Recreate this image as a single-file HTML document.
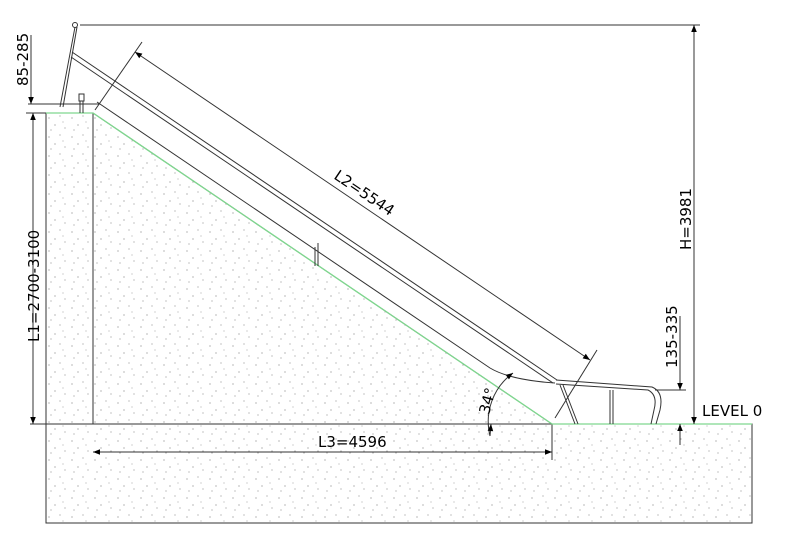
<!DOCTYPE html>
<html><head><meta charset="utf-8"><style>html,body{margin:0;padding:0;background:#fff}svg{display:block}</style></head>
<body>
<svg width="800" height="553" viewBox="0 0 800 553" xmlns="http://www.w3.org/2000/svg" font-family="DejaVu Sans, sans-serif">
<defs>
<pattern id="sp" width="23" height="19" patternUnits="userSpaceOnUse">
<rect width="23" height="19" fill="#fff"/>
<circle cx="3" cy="4" r="0.6" fill="#888"/><circle cx="14" cy="2" r="0.6" fill="#999"/>
<circle cx="9" cy="11" r="0.6" fill="#888"/><circle cx="19" cy="14" r="0.6" fill="#999"/>
<circle cx="5" cy="16" r="0.6" fill="#999"/><circle cx="17" cy="8" r="0.5" fill="#888"/>
</pattern>
<marker id="a" viewBox="0 0 10 10" refX="10" refY="5" markerWidth="10" markerHeight="7" orient="auto-start-reverse" markerUnits="userSpaceOnUse"><path d="M0,1 L10,5 L0,9z" fill="#000"/></marker>
</defs>
<polygon points="46,113 93,113 552,424 752,424 752,523 46,523" fill="url(#sp)" stroke="#333" stroke-width="1"/>
<line x1="93" y1="113" x2="93" y2="424" stroke="#333"/>
<line x1="30" y1="424" x2="552" y2="424" stroke="#333"/>
<line x1="552" y1="424" x2="552" y2="460" stroke="#333"/>
<polyline points="46,113 93,113 552,424 752,424" fill="none" stroke="#7fd88f" stroke-width="1.3"/>
<line x1="60" y1="107" x2="75" y2="27" stroke="#333"/>
<line x1="63" y1="107" x2="77" y2="27" stroke="#333"/>
<circle cx="75" cy="25" r="2.5" fill="#fff" stroke="#333"/>
<line x1="80" y1="25" x2="700" y2="25" stroke="#333"/>
<rect x="79" y="94" width="5" height="7" fill="none" stroke="#333"/>
<line x1="80" y1="101" x2="80" y2="113" stroke="#333"/><line x1="83" y1="101" x2="83" y2="113" stroke="#333"/>
<line x1="28" y1="104" x2="100" y2="104" stroke="#333"/>
<line x1="72" y1="52" x2="557" y2="380" stroke="#333"/>
<line x1="71" y1="57" x2="553" y2="383" stroke="#333"/>
<path d="M97,102 L490,368 Q510,380 555,383" fill="none" stroke="#333"/>
<line x1="315" y1="247" x2="315" y2="266" stroke="#333"/><line x1="318" y1="243" x2="318" y2="266" stroke="#333"/>
<path d="M556,380 L652,387 Q664,392 660,410 L656,424" fill="none" stroke="#333"/>
<path d="M556,384 L648,390 Q658,395 654,410 L651,424" fill="none" stroke="#333"/>
<line x1="560" y1="385" x2="575" y2="424" stroke="#333"/><line x1="563" y1="385" x2="578" y2="424" stroke="#333"/>
<line x1="610" y1="390" x2="610" y2="424" stroke="#333"/><line x1="613" y1="390" x2="613" y2="424" stroke="#333"/>
<line x1="135" y1="52" x2="590" y2="360" stroke="#333" marker-start="url(#a)" marker-end="url(#a)"/>
<line x1="142" y1="42" x2="95" y2="110" stroke="#333"/>
<line x1="597" y1="350" x2="555" y2="418" stroke="#333"/>
<text font-size="15" transform="translate(333,178) rotate(34)">L2=5544</text>
<line x1="694" y1="25" x2="694" y2="424" stroke="#333" marker-start="url(#a)" marker-end="url(#a)"/>
<text font-size="15" transform="translate(691,250) rotate(-90)">H=3981</text>
<text x="702" y="416" font-size="15">LEVEL 0</text>
<line x1="680" y1="316" x2="680" y2="390" stroke="#333" marker-end="url(#a)"/>
<line x1="680" y1="445" x2="680" y2="424" stroke="#333" marker-end="url(#a)"/>
<line x1="655" y1="390" x2="686" y2="390" stroke="#333"/>
<text font-size="15" transform="translate(677,368) rotate(-90)">135-335</text>
<line x1="33" y1="113" x2="33" y2="424" stroke="#333" marker-start="url(#a)" marker-end="url(#a)"/>
<line x1="26" y1="113" x2="46" y2="113" stroke="#333"/>
<text font-size="15" transform="translate(39,342) rotate(-90)">L1=2700-3100</text>
<line x1="31" y1="35" x2="31" y2="104" stroke="#333" marker-end="url(#a)"/>
<text font-size="15" transform="translate(28,86) rotate(-90)">85-285</text>
<line x1="93" y1="452" x2="552" y2="452" stroke="#333" marker-start="url(#a)" marker-end="url(#a)"/>
<text x="318" y="447" font-size="15">L3=4596</text>
<path d="M513,373 A60,60 0 0 0 490,436" fill="none" stroke="#333" marker-start="url(#a)"/>
<line x1="490" y1="436" x2="491" y2="424" stroke="#333" marker-end="url(#a)"/>
<text font-size="15" transform="translate(489,415) rotate(-75)">34°</text>
</svg>
</body></html>
